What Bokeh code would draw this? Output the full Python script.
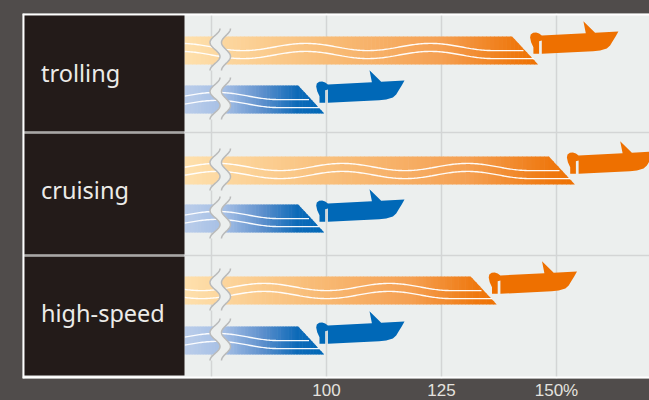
import numpy as np
from bokeh.core.properties import value
from bokeh.embed import file_html
from bokeh.models import FixedTicker, Range1d
from bokeh.plotting import figure
from bokeh.resources import INLINE

categories = ["trolling", "cruising", "high-speed"]
orange_values = [146, 154, 137]
blue_values = [99.5, 99.5, 99.5]
tick_values = [100, 125, 150]
tick_labels = {100: "100", 125: "125", 150: "150%"}
grid_values = [75, 100, 125, 150]

DARK = "#504c4b"
PANEL = "#ecefee"
BLOCK = "#231b19"
ORANGE_STOPS = [(0, "#fee0ac"), (.41, "#f8bb76"), (.72, "#f5a052"), (.92, "#ef7a12"), (1, "#ee7000")]
BLUE_STOPS = [(0, "#bacdea"), (.28, "#a5bfe5"), (.55, "#5e90cd"), (.8, "#0d6ab8"), (1, "#0068b7")]

PX0, SCALE = 326.0, 4.6


def X(px):
    return 100 + (np.asarray(px, dtype=float) - PX0) / SCALE


def PX(val):
    return PX0 + (val - 100) * SCALE


def rgb(h):
    return np.array([int(h[i:i + 2], 16) for i in (1, 3, 5)], dtype=float)


def ramp(stops, t):
    ts = [s[0] for s in stops]
    cs = np.array([rgb(s[1]) for s in stops])
    c = [np.interp(t, ts, cs[:, i]) for i in range(3)]
    return "#%02x%02x%02x" % tuple(int(round(v)) for v in c)


p = figure(width=649, height=400, frame_width=627, frame_height=365,
           output_backend="svg", toolbar_location=None,
           x_range=Range1d(float(X(22)), float(X(649))), y_range=Range1d(378, 13),
           y_axis_location=None, min_border_left=22, min_border_right=0,
           min_border_top=13, min_border_bottom=22,
           background_fill_color=PANEL, border_fill_color=DARK, outline_line_color=None)

ax = p.xaxis[0]
ax.ticker = FixedTicker(ticks=tick_values)
ax.major_label_overrides = tick_labels
ax.axis_line_color = None
ax.major_tick_line_color = None
ax.minor_tick_line_color = None
ax.major_tick_out = 0
ax.major_tick_in = 0
ax.major_label_standoff = 2
ax.major_label_text_font = "Liberation Sans"
ax.major_label_text_font_size = "17px"
ax.major_label_text_color = "#e4e2df"
p.xgrid.ticker = FixedTicker(ticks=grid_values)
p.xgrid.grid_line_color = "#d3d5d5"
p.xgrid.grid_line_width = 1.5
p.ygrid.visible = False

BLOCKS = [(15, 131), (133, 254), (256, 375)]
ROW_TOPS = [36, 156, 276]
BLUE_TOPS = [85, 204, 326]
TEXT_Y = [72.5, 189.5, 312.5]


def bar(end_value, top, stops):
    h = 28
    tip = PX(end_value)
    edges = np.linspace(184, tip, 90)
    top_end = tip - 26
    xs, ys, cols = [], [], []
    for a, b in zip(edges[:-1], edges[1:]):
        b2 = min(b + .6, tip)
        f = lambda x: top + h * (x - top_end) / (tip - top_end)
        if a >= top_end:
            pts_x = [a, b2, b2, a]
            pts_y = [f(a), f(b2), top + h, top + h]
        elif b2 > top_end:
            pts_x = [a, top_end, b2, b2, a]
            pts_y = [top, top, f(b2), top + h, top + h]
        else:
            pts_x = [a, b2, b2, a]
            pts_y = [top, top, top + h, top + h]
        xs.append(X(pts_x).tolist())
        ys.append(pts_y)
        cols.append(ramp(stops, (a - 184) / (tip - 184)))
    p.patches(xs, ys, fill_color=cols, line_color=None)
    for stop, mid in ((15, 10.5), (5, 18.5)):
        lx = np.arange(184, tip - stop + 1, 1.5)
        ly = top + mid + 3.6 * np.cos(2 * np.pi * (lx - (tip - 45)) / 125)
        ly[lx > tip - 45] = top + mid + 3.6
        p.line(X(lx), ly, line_color="#ffffff", line_width=1.4, line_alpha=.95)


def broken(top):
    ty = np.linspace(top - 8, top + 34, 50)
    wave = np.cos(2 * np.pi * (ty - (top - 8)) / 28)
    left = 214.5 + 5 * wave
    right = 225.5 + 4.5 * wave
    p.patch(X(np.r_[left, right[::-1]]), np.r_[ty, ty[::-1]], fill_color=PANEL, line_color=None)
    p.line(X(left), ty, line_color="#b9baba", line_width=1.5)
    p.line(X(right), ty, line_color="#b9baba", line_width=1.5)


BOAT_DX = [3.7, 47.7, 45.3, 57, 80.3, 77.5, 75, 72, 68.7, 62, 55, 3.7, 3.7, 1, 1, -4.7, -4.7, -7, -8, -7.4, -5, -2, 1, 3, 3.7]
BOAT_DY = [-1, -3.3, -15.3, -3.7, -5, 0, 4, 9, 12, 14, 14.7, 17.3, 4, 4.7, 17.3, 17.3, 10.7, 5.7, 1, -2, -3.7, -3.9, -3, -1.5, -1]


def boat(end_value, top, colour):
    tip = PX(end_value)
    p.patch(X(tip + np.array(BOAT_DX)), top + np.array(BOAT_DY), fill_color=colour, line_color=None)


for i, name in enumerate(categories):
    top = ROW_TOPS[i]
    bar(orange_values[i], top, ORANGE_STOPS)
    broken(top)
    boat(orange_values[i], top, "#ee7000")
    bar(blue_values[i], BLUE_TOPS[i], BLUE_STOPS)
    broken(BLUE_TOPS[i])
    boat(blue_values[i], BLUE_TOPS[i], "#0068b7")

# panel frame and label blocks
p.quad(left=X(22), right=X(24), top=13, bottom=378, fill_color="#ffffff", line_color=None)
p.quad(left=X(22), right=X(649), top=13, bottom=15, fill_color="#ffffff", line_color=None)
p.quad(left=X(22), right=X(649), top=376, bottom=378, fill_color="#ffffff", line_color=None)
p.quad(left=[X(24).item()] * 3, right=[X(184).item()] * 3,
       top=[b[0] for b in BLOCKS], bottom=[b[1] for b in BLOCKS], fill_color=BLOCK, line_color=None)
for y in (132, 255):
    p.line(X([24, 184]), [y, y], line_color="#a8a6a5", line_width=1.5)
    p.line(X([184, 649]), [y, y], line_color="#d3d5d5", line_width=1.5)

p.text(x=[X(40.5).item()] * 3, y=TEXT_Y, text=categories, text_color="#ecebe8",
       text_font=value("Noto Sans"), text_font_size=value("23.5px"),
       text_align="left", text_baseline="middle")

html = file_html(p, INLINE)
html = html.replace("<head>", "<head><style>html,body{background:%s;overflow:hidden}</style>" % DARK, 1)
open("out.html", "w").write(html)
